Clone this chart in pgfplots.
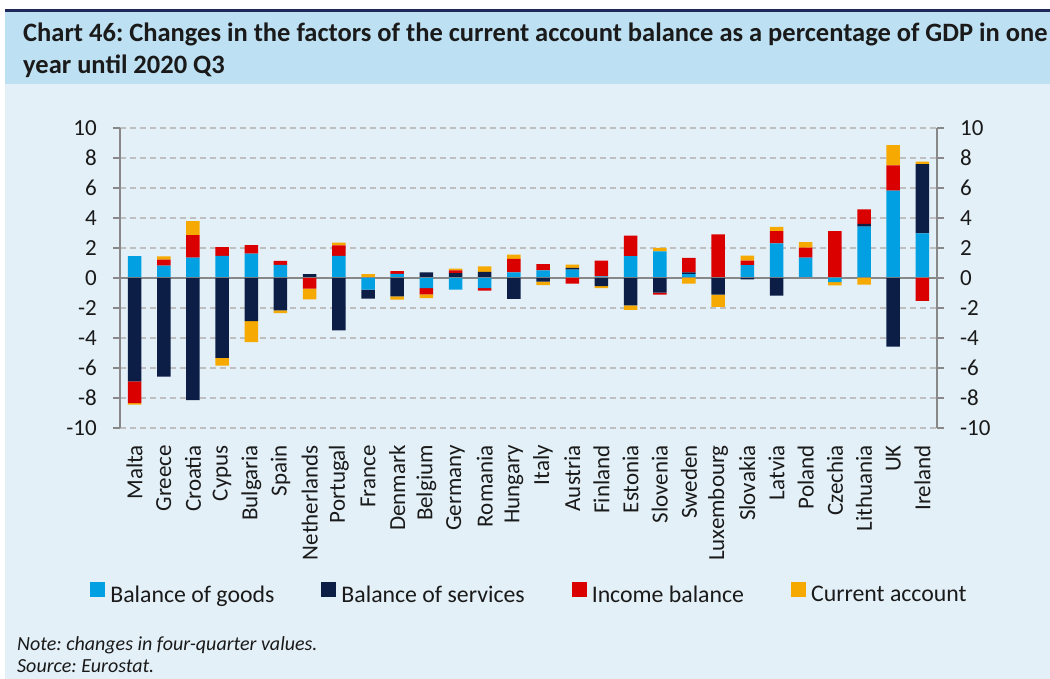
\documentclass[border=0pt]{standalone}
\usepackage{pgfplots}
\pgfplotsset{compat=1.18}
\usepackage{pgfplotstable}
\usepackage{fontspec}
\setmainfont{Carlito}
\frenchspacing

\definecolor{goods}{HTML}{00A0E3}
\definecolor{services}{HTML}{0C1E46}
\definecolor{income}{HTML}{DA0000}
\definecolor{curacc}{HTML}{F6A900}
\definecolor{bgpale}{HTML}{E3F0F7}
\definecolor{band}{HTML}{BDE0F2}
\definecolor{navyline}{HTML}{1F2A5A}
\definecolor{gridgray}{HTML}{BFBFBF}
\definecolor{axgray}{HTML}{888888}
\definecolor{txt}{HTML}{1A1A1A}

% positive parts (stacked upwards)
\pgfplotstableread{
x g s i c
0 1.45 0 0 0
1 0.82 0 0.40 0.22
2 1.36 0 1.49 0.94
3 1.47 0 0.58 0
4 1.63 0 0.56 0
5 0.87 0 0.27 0
6 0 0.25 0 0
7 1.47 0 0.71 0.18
8 0 0 0 0.25
9 0.27 0 0.18 0
10 0 0.38 0 0
11 0 0.33 0.18 0.11
12 0 0.40 0 0.38
13 0.38 0 0.89 0.29
14 0.51 0 0.42 0
15 0.55 0.12 0 0.22
16 0.10 0 1.05 0
17 1.45 0 1.38 0
18 1.78 0 0 0.22
19 0.25 0.13 0.96 0
20 0 0 2.90 0
21 0.85 0 0.31 0.33
22 2.30 0 0.83 0.27
23 1.36 0 0.67 0.36
24 0 0 3.13 0
25 3.42 0.18 0.98 0
26 5.83 0 1.67 1.36
27 2.97 4.62 0 0.16
}\postab

% negative parts (stacked downwards)
\pgfplotstableread{
x g s i c
0 0 -6.90 -1.45 -0.10
1 0 -6.58 0 0
2 0 -8.14 0 0
3 0 -5.33 0 -0.51
4 0 -2.88 0 -1.40
5 0 -2.16 0 -0.18
6 0 0 -0.71 -0.71
7 0 -3.50 0 0
8 -0.78 -0.60 0 0
9 0 -1.23 0 -0.22
10 -0.67 0 -0.42 -0.25
11 -0.78 0 0 0
12 -0.67 0 -0.18 0
13 0 -1.40 0 0
14 0 -0.25 0 -0.22
15 0 0 -0.38 0
16 0 -0.54 0 -0.13
17 0 -1.83 0 -0.29
18 0 -0.98 -0.13 0
19 0 0 0 -0.38
20 0 -1.11 0 -0.82
21 0 -0.10 0 0
22 0 -1.18 0 0
23 0 0 0 0
24 -0.27 0 0 -0.22
25 0 0 0 -0.45
26 0 -4.58 0 0
27 0 0 -1.52 0
}\negtab

\pgfplotsset{
  mybase/.style={
    scale only axis, width=817pt, height=300pt,
    at={(120pt,251pt)}, anchor=south west,
    xmin=-0.5, xmax=27.5, ymin=-10, ymax=10,
    ybar stacked, bar width=13.5pt,
    ytick={-10,-8,...,10},
    tick align=outside, major tick length=7pt,
    axis line style={-, draw=axgray, line width=1.5pt},
    ytick style={draw=axgray, line width=1.5pt},
    /pgf/number format/assume math mode=true,
    yticklabel style={font=\fontsize{23}{27}\selectfont, text=txt, inner sep=0pt},
    yticklabel shift=16pt,
  }
}

\begin{document}
\begin{tikzpicture}[x=1pt,y=1pt]
\path[use as bounding box] (0,0) rectangle (1050,679);
\clip (0,0) rectangle (1050,679);
\fill[white] (0,0) rectangle (1050,679);
\fill[bgpale] (5,0) rectangle (1050,667);
\fill[band] (5,595) rectangle (1050,667);
\fill[navyline] (5,667) rectangle (1050,669.5);
\node[anchor=base west, inner sep=0pt, text=txt, font=\fontsize{26.5}{31}\selectfont\bfseries] at (23,637.5)
  {Chart 46: Changes in the factors of the current account balance as a percentage of GDP in one};
\node[anchor=base west, inner sep=0pt, text=txt, font=\fontsize{26.5}{31}\selectfont\bfseries] at (23,605)
  {year until 2020 Q3};
\node[anchor=base west, inner sep=0pt, text=txt, font=\fontsize{20}{24}\selectfont\itshape] at (17,28.5)
  {Note: changes in four-quarter values.};
\node[anchor=base west, inner sep=0pt, text=txt, font=\fontsize{20}{24}\selectfont\itshape] at (17,6)
  {Source: Eurostat.};

\begin{axis}[mybase,
  axis y line*=left, axis x line*=bottom,
  x axis line style={draw=none},
  xtick={0,...,27},
  xticklabels={Malta,Greece,Croatia,Cypus,Bulgaria,Spain,Netherlands,Portugal,France,Denmark,Belgium,Germany,Romania,Hungary,Italy,Austria,Finland,Estonia,Slovenia,Sweden,Luxembourg,Slovakia,Latvia,Poland,Czechia,Lithuania,UK,Ireland},
  xtick style={draw=none},
  xticklabel style={rotate=90, anchor=east, inner sep=0pt, font=\fontsize{23}{27}\selectfont, text=txt},
  xticklabel shift=10pt,
  ymajorgrids,
  grid style={draw=gridgray, line width=1.5pt, dash pattern=on 6pt off 4pt},
  legend columns=4,
  legend style={at={(0.5,-0.55)}, anchor=center, draw=none, fill=none,
    font=\fontsize{23.8}{28}\selectfont, text=txt,
    nodes={inner sep=0pt},
    /tikz/every odd column/.append style={column sep=5pt},
    /tikz/every even column/.append style={column sep=47pt}},
  legend image code/.code={\fill[#1] (0pt,-2pt) rectangle (15pt,13pt);},
]
\addplot[fill=goods, draw=none] table[x=x, y=g] {\postab};
\addplot[fill=services, draw=none] table[x=x, y=s] {\postab};
\addplot[fill=income, draw=none] table[x=x, y=i] {\postab};
\addplot[fill=curacc, draw=none] table[x=x, y=c] {\postab};
\legend{Balance of goods, Balance of services, Income balance, Current account}
\node[font=\fontsize{23}{27}\selectfont, text=txt] at (axis description cs:0.06,1.053) {Percent};
\node[font=\fontsize{23}{27}\selectfont, text=txt] at (axis description cs:0.94,1.053) {Percent};
\end{axis}

\begin{axis}[mybase,
  axis y line*=right, axis x line=none,
]
\addplot[fill=goods, draw=none] table[x=x, y=g] {\negtab};
\addplot[fill=services, draw=none] table[x=x, y=s] {\negtab};
\addplot[fill=income, draw=none] table[x=x, y=i] {\negtab};
\addplot[fill=curacc, draw=none] table[x=x, y=c] {\negtab};
\draw[axgray, line width=2.3pt] (axis cs:-0.5,0) -- (axis cs:27.5,0);
\end{axis}
\end{tikzpicture}
\end{document}
